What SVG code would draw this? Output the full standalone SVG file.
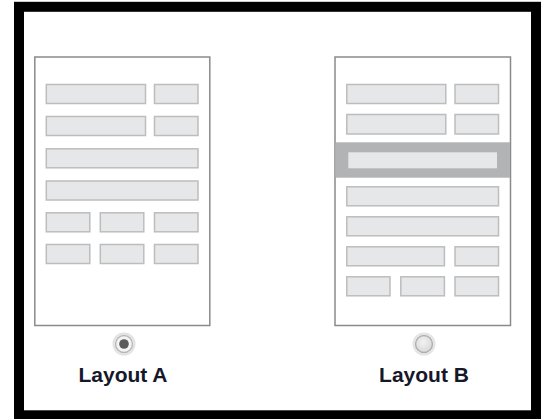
<svg xmlns="http://www.w3.org/2000/svg" width="548" height="419" viewBox="0 0 548 419">
<defs>
<style>
.frame{fill:none;stroke:#000;stroke-width:10}
.phone{fill:#fff;stroke:#8a8a8a;stroke-width:1.5}
.bar{fill:#e6e7e8;stroke:#bdbdbd;stroke-width:1.5}
.band{fill:#b2b3b5}
.inner{fill:#e6e7e8}
.label{font-family:"Liberation Sans",Arial,sans-serif;font-weight:bold;font-size:21px;fill:#16182a;text-anchor:middle}
</style>
<radialGradient id="radioOff" cx="0.45" cy="0.4" r="0.6">
<stop offset="0" stop-color="#f2f2f2"/>
<stop offset="1" stop-color="#d8d8d8"/>
</radialGradient>
</defs>
<rect width="548" height="419" fill="#fff"/>
<rect class="frame" x="19" y="6.8" width="517" height="408.5"/>
<g id="layoutA">
<rect class="phone" x="34.8" y="57" width="175" height="268.5"/>
<rect class="bar" x="46.3" y="84.5" width="99.2" height="19"/>
<rect class="bar" x="154.5" y="84.5" width="43.5" height="19"/>
<rect class="bar" x="46.3" y="116.5" width="99.2" height="19"/>
<rect class="bar" x="154.5" y="116.5" width="43.5" height="19"/>
<rect class="bar" x="46.3" y="148.8" width="151.7" height="19"/>
<rect class="bar" x="46.3" y="181" width="151.7" height="19"/>
<rect class="bar" x="46.3" y="212.8" width="43.5" height="19"/>
<rect class="bar" x="100.3" y="212.8" width="43.5" height="19"/>
<rect class="bar" x="154.5" y="212.8" width="43.5" height="19"/>
<rect class="bar" x="46.3" y="244.5" width="43.5" height="19"/>
<rect class="bar" x="100.3" y="244.5" width="43.5" height="19"/>
<rect class="bar" x="154.5" y="244.5" width="43.5" height="19"/>
<circle cx="124" cy="344" r="10.5" fill="#fff" stroke="#e2e2e2" stroke-width="2"/>
<circle cx="124" cy="344" r="8.5" fill="#f4f4f4" stroke="#b8b8b8" stroke-width="1.5"/>
<circle cx="124" cy="344" r="4.8" fill="#5a5a5a"/>
<text class="label" x="123" y="382">Layout A</text>
</g>
<g id="layoutB">
<rect class="phone" x="335" y="57" width="175.5" height="268.5"/>
<rect class="bar" x="346.8" y="84.5" width="99" height="19"/>
<rect class="bar" x="455" y="84.5" width="43.5" height="19"/>
<rect class="bar" x="346.8" y="114.5" width="99" height="19.5"/>
<rect class="bar" x="455" y="114.5" width="43.5" height="19.5"/>
<rect class="band" x="335.5" y="142.3" width="174.5" height="35.4"/>
<rect class="inner" x="348.3" y="152.3" width="148.7" height="16"/>
<rect class="bar" x="346.8" y="186.8" width="151.7" height="19"/>
<rect class="bar" x="346.8" y="216.8" width="151.7" height="19"/>
<rect class="bar" x="346.8" y="246.8" width="97.6" height="19"/>
<rect class="bar" x="455" y="246.8" width="43.5" height="19"/>
<rect class="bar" x="346.8" y="276.8" width="43.2" height="19"/>
<rect class="bar" x="400.8" y="276.8" width="43.6" height="19"/>
<rect class="bar" x="455" y="276.8" width="43.5" height="19"/>
<circle cx="424" cy="344" r="10.5" fill="#fff" stroke="#e4e4e4" stroke-width="2"/>
<circle cx="424" cy="344" r="8.5" fill="url(#radioOff)" stroke="#b0b0b0" stroke-width="1.5"/>
<text class="label" x="424" y="382">Layout B</text>
</g>
<g id="connectors"/>
</svg>
